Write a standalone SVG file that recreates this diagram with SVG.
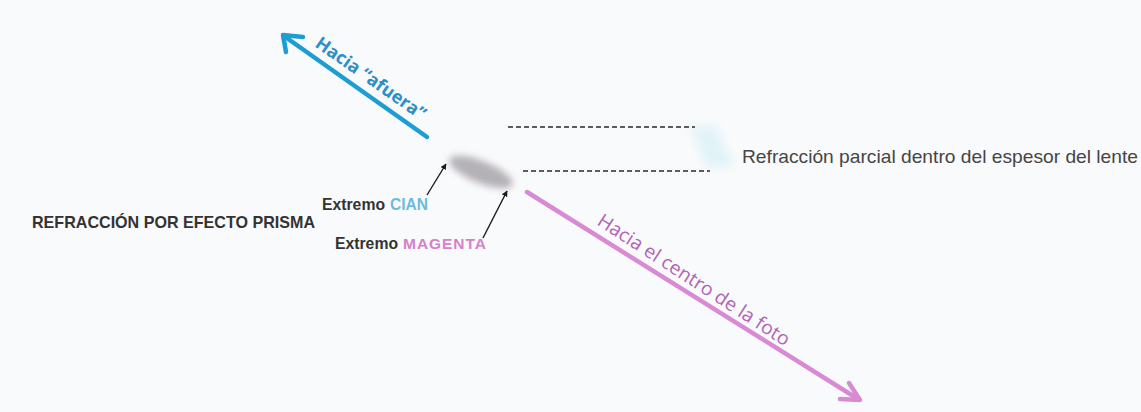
<svg xmlns="http://www.w3.org/2000/svg" width="1141" height="412" viewBox="0 0 1141 412">
  <style>
    .lbl { font-family: "Liberation Sans", Arial, sans-serif; }
    .dark { fill: #333333; }
    .dash { stroke: #2a2a2a; stroke-width: 1.3; stroke-dasharray: 5 3; fill: none; }
    .ptr { stroke: #1a1a1a; stroke-width: 1.4; fill: none; marker-end: url(#tip); }
    .big { fill: none; stroke-width: 4.5; stroke-linecap: round; stroke-linejoin: round; }
  </style>
  <defs>
    <marker id="tip" viewBox="0 0 10 10" refX="9" refY="5" markerWidth="6" markerHeight="6" orient="auto" markerUnits="userSpaceOnUse">
      <path d="M0,0 L10,5 L0,10 z" fill="#1a1a1a"/>
    </marker>
    <filter id="blur3" x="-50%" y="-50%" width="200%" height="200%">
      <feGaussianBlur stdDeviation="3.5"/>
    </filter>
    <filter id="blur4" x="-50%" y="-50%" width="200%" height="200%">
      <feGaussianBlur stdDeviation="5"/>
    </filter>
  </defs>
  <rect width="1141" height="412" fill="#f9fafb"/>

  <g id="blob">
    <ellipse cx="481" cy="172" rx="34" ry="11" transform="rotate(22 481 172)" fill="#b4b1b7" filter="url(#blur3)"/>
  </g>

  <g id="cyan-wedge">
    <polygon points="690,126 716,126 734,167 706,167" fill="#d9f1f7" opacity="0.75" filter="url(#blur4)"/>
  </g>

  <g id="connectors">
    <path class="big" stroke="#1c9dd4" d="M427,137 L284,36"/>
    <path class="big" stroke="#1c9dd4" d="M303,37 L283,35 L286,52"/>
    <path class="big" stroke="#d98ad5" d="M527,192 L858,399"/>
    <path class="big" stroke="#d98ad5" d="M840,399 L860,400 L849,383"/>
    <path class="ptr" d="M427,195 L446,164"/>
    <path class="ptr" d="M483,238 L507,191"/>
    <path class="dash" d="M508,127 L695,127"/>
    <path class="dash" d="M523,171 L710,171"/>
  </g>

  <g id="label-afuera">
    <text x="314" y="46" transform="rotate(35 314 46)" font-family="'Open Sans', 'Liberation Sans', sans-serif" font-weight="bold" font-size="18" fill="#2b8fc9" textLength="130" lengthAdjust="spacingAndGlyphs">Hacia “afuera”</text>
  </g>

  <g id="label-centro">
    <text x="596" y="224" transform="rotate(33 596 224)" font-family="'Open Sans', 'Liberation Sans', sans-serif" font-size="19" fill="#b262b8" textLength="225" lengthAdjust="spacingAndGlyphs">Hacia el centro de la foto</text>
  </g>

  <g id="label-cian">
    <text class="lbl dark" x="322" y="210" font-size="17" font-weight="bold" textLength="63" lengthAdjust="spacingAndGlyphs">Extremo</text>
    <text class="lbl" x="390" y="210" font-size="17" font-weight="bold" fill="#6bbcd9" textLength="38" lengthAdjust="spacingAndGlyphs">CIAN</text>
  </g>

  <g id="label-magenta">
    <text class="lbl dark" x="335" y="249" font-size="17" font-weight="bold" textLength="63" lengthAdjust="spacingAndGlyphs">Extremo</text>
    <text class="lbl" x="403" y="249" font-size="15.5" font-weight="bold" fill="#d680cb" textLength="83" lengthAdjust="spacing">MAGENTA</text>
  </g>

  <g id="label-prisma">
    <text class="lbl dark" x="32" y="228" font-size="17" font-weight="bold" textLength="283" lengthAdjust="spacingAndGlyphs">REFRACCIÓN POR EFECTO PRISMA</text>
  </g>

  <g id="label-parcial">
    <text class="lbl" x="742" y="163" font-size="19" fill="#454545" textLength="396" lengthAdjust="spacingAndGlyphs">Refracción parcial dentro del espesor del lente</text>
  </g>
</svg>
